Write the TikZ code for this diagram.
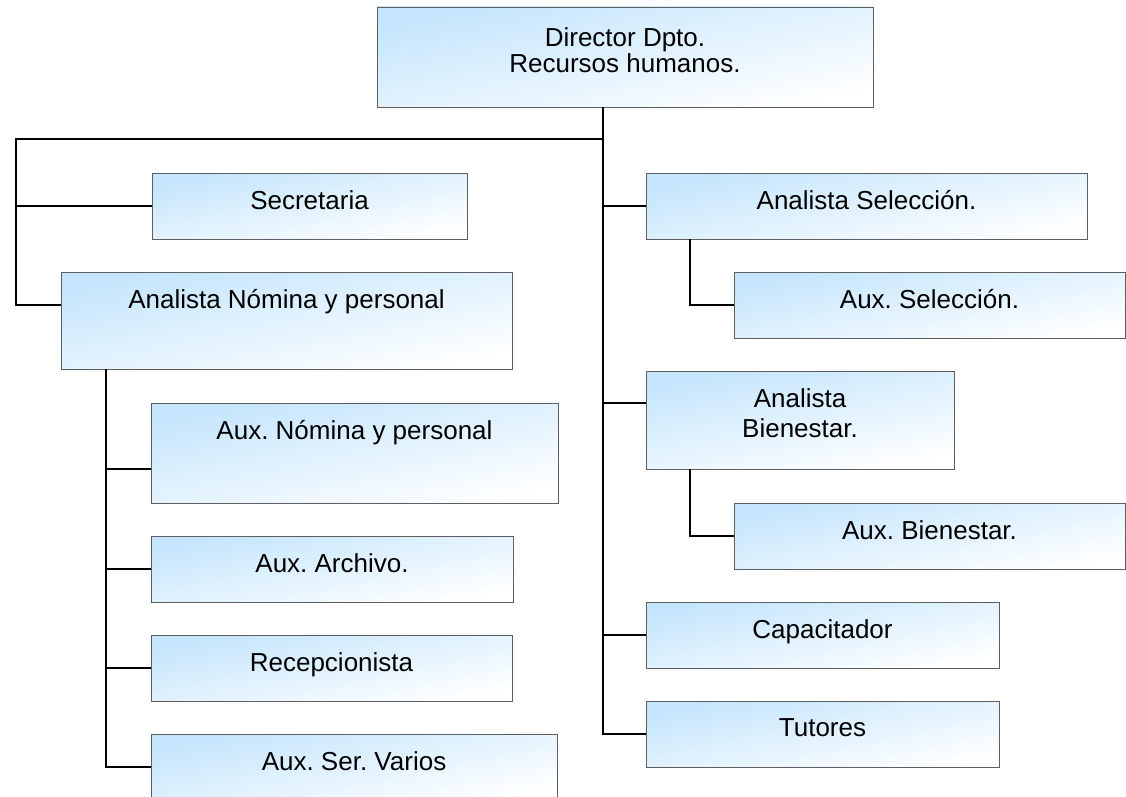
\documentclass[tikz,border=0pt]{standalone}
\usepackage{fontspec}
\setmainfont{Liberation Sans}
\usetikzlibrary{positioning}
\usepackage{xcolor}
\definecolor{boxblue}{RGB}{196,229,252}
\definecolor{boxline}{RGB}{95,95,95}
\frenchspacing

\begin{document}
\begin{tikzpicture}[
x=1pt, y=-1pt,
box/.style = {draw=boxline, line width=0.9pt, top color=boxblue, bottom color=white,
              shading angle=12, anchor=north west, inner sep=0pt, outer sep=0pt},
lbl/.style = {font=\fontsize{26}{26}\selectfont, align=center, inner sep=0pt},
link/.style = {line width=2pt},
]
  \path[use as bounding box, fill=white] (0,0) rectangle (1126,797);
  \clip (0,0) rectangle (1126,797);

  % boxes
  \node[box, minimum width=496pt, minimum height=100pt] (dir) at (377,7) {};
  \node[box, minimum width=315pt, minimum height=66pt] (sec) at (152,173) {};
  \node[box, minimum width=451pt, minimum height=97pt] (anom) at (61,272) {};
  \node[box, minimum width=407pt, minimum height=100pt] (auxnom) at (151,403) {};
  \node[box, minimum width=362pt, minimum height=66pt] (arch) at (151,536) {};
  \node[box, minimum width=361pt, minimum height=66pt] (recep) at (151,635) {};
  \node[box, minimum width=406pt, minimum height=66pt] (varios) at (151,734) {};
  \node[box, minimum width=441pt, minimum height=66pt] (ansel) at (646,173) {};
  \node[box, minimum width=391pt, minimum height=66pt] (auxsel) at (734,272) {};
  \node[box, minimum width=308pt, minimum height=98pt] (anbien) at (646,371) {};
  \node[box, minimum width=391pt, minimum height=66pt] (auxbien) at (734,503) {};
  \node[box, minimum width=353pt, minimum height=66pt] (capa) at (646,602) {};
  \node[box, minimum width=353pt, minimum height=66pt] (tut) at (646,701) {};

  % texts
  \node[lbl, below=20pt of dir.north] (dirT) {Director Dpto.\\Recursos humanos.};
  \node[lbl, below=17pt of sec.north] (secT) {Secretaria};
  \node[lbl, below=17pt of anom.north] (anomT) {Analista Nómina y personal};
  \node[lbl, below=17pt of auxnom.north] (auxnomT) {Aux. Nómina y personal};
  \node[lbl, below=17pt of arch.north] (archT) {Aux. Archivo.};
  \node[lbl, below=17pt of recep.north] (recepT) {Recepcionista};
  \node[lbl, below=17pt of varios.north] (variosT) {Aux. Ser. Varios};
  \node[lbl, below=17pt of ansel.north] (anselT) {Analista Selección.};
  \node[lbl, below=17pt of auxsel.north] (auxselT) {Aux. Selección.};
  \node[lbl, below=17pt of anbien.north] (anbienT) {Analista\\[4pt]Bienestar.};
  \node[lbl, below=17pt of auxbien.north] (auxbienT) {Aux. Bienestar.};
  \node[lbl, below=17pt of capa.north] (capaT) {Capacitador};
  \node[lbl, below=17pt of tut.north] (tutT) {Tutores};

  % connectors
  \coordinate (hub) at (603,139);
  \coordinate (lbus) at (16,139);
  \coordinate (nspine) at ([xshift=45pt]anom.south west);
  \coordinate (anomin) at ([yshift=16pt]anom.west);
  \coordinate (auxnomin) at ([yshift=-16pt]auxnom.west);
  \coordinate (anbienin) at ([yshift=17pt]anbien.west);

  \draw[link] (hub |- dir.south) |- (tut.west);
  \draw[link] (hub) -- (lbus) |- (anomin);
  \draw[link] (lbus |- sec.west) -- (sec.west);
  \foreach \n in {ansel,capa}
    \draw[link] (hub |- \n.west) -- (\n.west);
  \draw[link] (hub |- anbienin) -- (anbienin);
  \draw[link] (nspine) |- (varios.west);
  \draw[link] (nspine |- auxnomin) -- (auxnomin);
  \foreach \n in {arch,recep}
    \draw[link] (nspine |- \n.west) -- (\n.west);
  \draw[link] ([xshift=44pt]ansel.south west) |- (auxsel.west);
  \draw[link] ([xshift=44pt]anbien.south west) |- (auxbien.west);
\end{tikzpicture}
\end{document}
